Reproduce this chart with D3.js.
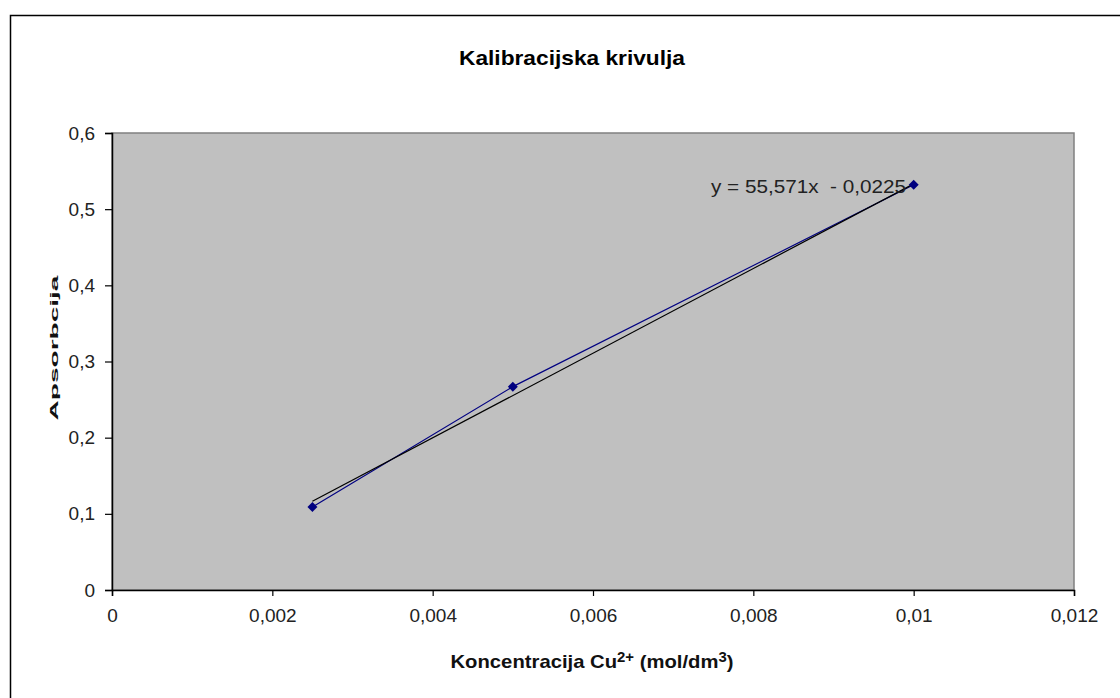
<!DOCTYPE html>
<html>
<head>
<meta charset="utf-8">
<script src="https://cdn.jsdelivr.net/npm/d3@7"></script>
<style>
html,body{margin:0;padding:0;background:#fff;}
svg{display:block;font-family:"Liberation Sans",Arial,sans-serif;}
</style>
</head>
<body>
<svg id="chart" width="1120" height="698"></svg>
<script>
const concentrations = [0.0025, 0.005, 0.01];
const absorbances = [0.109, 0.267, 0.532];
const trendSlope = 55.571;
const trendIntercept = -0.0225;
const xTicks = [0, 0.002, 0.004, 0.006, 0.008, 0.01, 0.012];
const yTicks = [0, 0.1, 0.2, 0.3, 0.4, 0.5, 0.6];
const titleText = "Kalibracijska krivulja";
const yTitle = "Apsorbcija";

const svg = d3.select("#chart");
const plot = {left:112, top:133, right:1074, bottom:590};
const x = d3.scaleLinear().domain([0,0.012]).range([plot.left, plot.right]);
const y = d3.scaleLinear().domain([0,0.6]).range([plot.bottom, plot.top]);
const fmt = d => d === 0 ? "0" : String(+d.toPrecision(6)).replace(".", ",");

// outer chart border
svg.append("rect").attr("x",10.5).attr("y",15.5).attr("width",1130).attr("height",700)
  .attr("fill","#fff").attr("stroke","#000").attr("stroke-width",1.5);

// plot area
svg.append("rect").attr("x",plot.left).attr("y",plot.top)
  .attr("width",plot.right-plot.left).attr("height",plot.bottom-plot.top)
  .attr("fill","#c0c0c0").attr("stroke","#808080").attr("stroke-width",1.5);

// title
svg.append("text").attr("x",572).attr("y",65).attr("text-anchor","middle")
  .attr("font-weight","bold").attr("font-size",21).attr("fill","#000")
  .attr("textLength",226).attr("lengthAdjust","spacingAndGlyphs").text(titleText);

// axes
const xAxis = d3.axisBottom(x).tickValues(xTicks).tickFormat(fmt).tickSizeOuter(0).tickSize(6).tickPadding(13);
const gx = svg.append("g").attr("transform",`translate(0,${plot.bottom})`).call(xAxis);
const yAxis = d3.axisLeft(y).tickValues(yTicks).tickFormat(fmt).tickSizeOuter(0).tickSize(7).tickPadding(10);
const gy = svg.append("g").attr("transform",`translate(${plot.left},0)`).call(yAxis);
[gx,gy].forEach(g=>{
  g.attr("font-size",19).attr("font-family","'Liberation Sans',Arial,sans-serif");
  g.select(".domain").attr("stroke","#000").attr("stroke-width",1.5);
  g.selectAll(".tick line").attr("stroke","#000").attr("stroke-width",1.2);
  g.selectAll(".tick text").attr("fill","#222");
});

// x axis title with superscripts
const xt = svg.append("text").attr("x",592).attr("y",668).attr("text-anchor","middle")
  .attr("font-weight","bold").attr("font-size",19).attr("fill","#111")
  .attr("textLength",283).attr("lengthAdjust","spacingAndGlyphs");
xt.append("tspan").text("Koncentracija Cu");
xt.append("tspan").attr("dy",-6).attr("font-size",14).text("2+");
xt.append("tspan").attr("dy",6).text(" (mol/dm");
xt.append("tspan").attr("dy",-6).attr("font-size",14).text("3");
xt.append("tspan").attr("dy",6).text(")");

// y axis title (compressed, rotated)
svg.append("text").attr("transform","translate(58,348) rotate(-90)")
  .attr("text-anchor","middle").attr("font-weight","bold").attr("font-size",11)
  .attr("textLength",145).attr("lengthAdjust","spacingAndGlyphs")
  .attr("fill","#111").text(yTitle);

// data
const data = concentrations.map((c,i)=>({x:c, y:absorbances[i]}));

// series line
svg.append("path").datum(data).attr("fill","none").attr("stroke","#000080").attr("stroke-width",1.2)
  .attr("d", d3.line().x(d=>x(d.x)).y(d=>y(d.y)));

// trendline
const xExt = d3.extent(concentrations);
svg.append("line")
  .attr("x1",x(xExt[0])).attr("y1",y(trendSlope*xExt[0]+trendIntercept))
  .attr("x2",x(xExt[1])).attr("y2",y(trendSlope*xExt[1]+trendIntercept))
  .attr("stroke","#000").attr("stroke-width",1.2);

// markers (square diamonds)
svg.selectAll("path.pt").data(data).join("path").attr("class","pt")
  .attr("d", d3.symbol(d3.symbolSquare, 50))
  .attr("transform", d=>`translate(${x(d.x)},${y(d.y)}) rotate(45)`)
  .attr("fill","#000080");

// equation label
svg.append("text").attr("x",906).attr("y",193).attr("text-anchor","end")
  .attr("font-size",19).attr("fill","#222").style("white-space","pre")
  .attr("textLength",195).attr("lengthAdjust","spacingAndGlyphs")
  .text(`y = ${String(trendSlope).replace(".",",")}x  - ${String(Math.abs(trendIntercept)).replace(".",",")}`);
</script>
</body>
</html>
